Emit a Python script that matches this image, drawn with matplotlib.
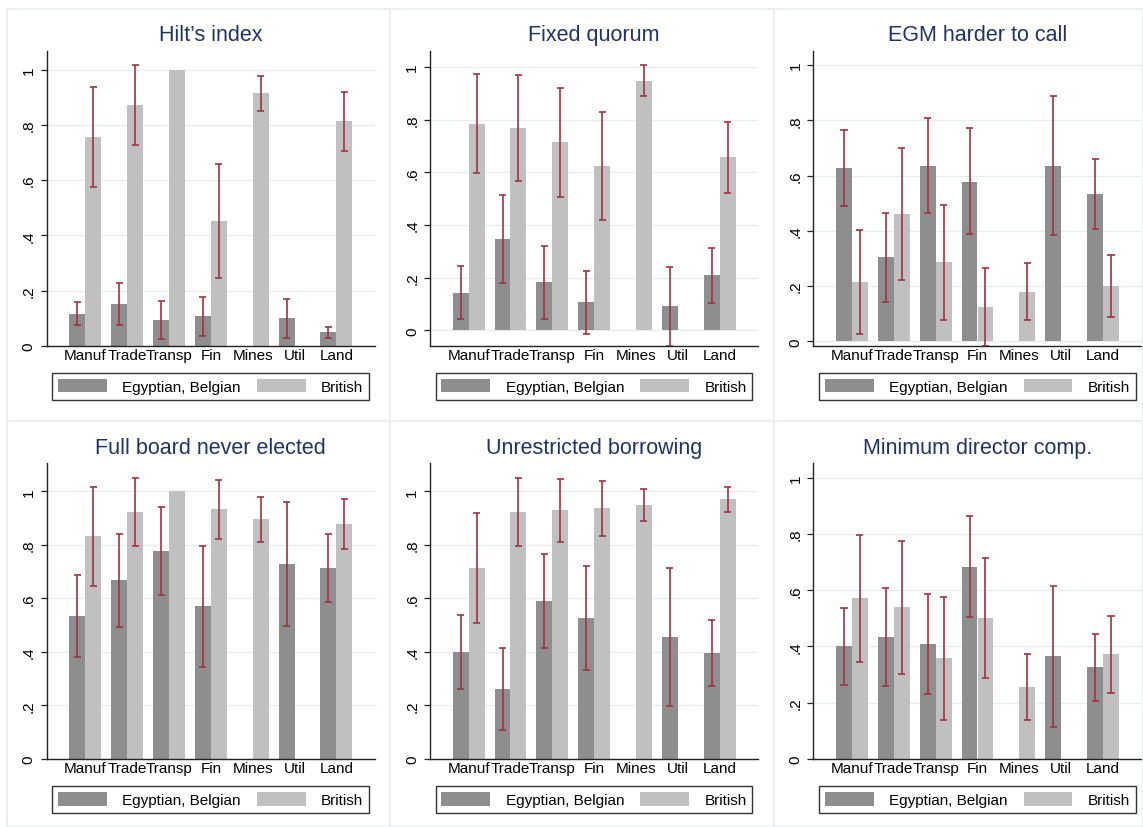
import numpy as np
import matplotlib
matplotlib.use("Agg")
import matplotlib.pyplot as plt
from matplotlib.patches import Patch, Rectangle

plt.rcParams['font.family'] = ['Liberation Sans', 'DejaVu Sans']

nan = np.nan
sectors = ["Manuf", "Trade", "Transp", "Fin", "Mines", "Util", "Land"]
ytick_vals = [0, 0.2, 0.4, 0.6, 0.8, 1]
ytick_labels = ["0", ".2", ".4", ".6", ".8", "1"]

# Hilt's index
hilt_eb = [0.115, 0.151, 0.093, 0.107, nan, 0.100, 0.050]
hilt_eb_lo = [0.075, 0.075, 0.024, 0.036, nan, 0.027, 0.029]
hilt_eb_hi = [0.157, 0.228, 0.163, 0.178, nan, 0.171, 0.068]
hilt_br = [0.757, 0.872, 1.000, 0.452, 0.914, nan, 0.813]
hilt_br_lo = [0.576, 0.727, nan, 0.246, 0.851, nan, 0.705]
hilt_br_hi = [0.936, 1.017, nan, 0.659, 0.977, nan, 0.919]

# Fixed quorum
quorum_eb = [0.143, 0.348, 0.184, 0.108, nan, 0.092, 0.210]
quorum_eb_lo = [0.044, 0.180, 0.043, -0.013, nan, -0.058, 0.106]
quorum_eb_hi = [0.243, 0.514, 0.320, 0.224, nan, 0.242, 0.314]
quorum_br = [0.785, 0.768, 0.715, 0.624, 0.948, nan, 0.658]
quorum_br_lo = [0.597, 0.567, 0.506, 0.419, 0.889, nan, 0.523]
quorum_br_hi = [0.972, 0.968, 0.920, 0.830, 1.006, nan, 0.791]

# EGM harder to call
egm_eb = [0.627, 0.305, 0.636, 0.578, nan, 0.636, 0.534]
egm_eb_lo = [0.491, 0.142, 0.463, 0.387, nan, 0.385, 0.408]
egm_eb_hi = [0.765, 0.466, 0.809, 0.771, nan, 0.888, 0.661]
egm_br = [0.215, 0.461, 0.286, 0.124, 0.179, nan, 0.200]
egm_br_lo = [0.027, 0.223, 0.078, -0.016, 0.076, nan, 0.087]
egm_br_hi = [0.403, 0.698, 0.492, 0.267, 0.282, nan, 0.312]

# Full board never elected
board_eb = [0.534, 0.668, 0.777, 0.570, nan, 0.728, 0.713]
board_eb_lo = [0.380, 0.491, 0.611, 0.344, nan, 0.495, 0.586]
board_eb_hi = [0.687, 0.840, 0.943, 0.797, nan, 0.959, 0.842]
board_br = [0.833, 0.923, 1.000, 0.934, 0.897, nan, 0.878]
board_br_lo = [0.647, 0.796, nan, 0.823, 0.810, nan, 0.783]
board_br_hi = [1.017, 1.050, nan, 1.042, 0.978, nan, 0.973]

# Unrestricted borrowing
borrow_eb = [0.399, 0.261, 0.590, 0.526, nan, 0.455, 0.395]
borrow_eb_lo = [0.261, 0.106, 0.413, 0.333, nan, 0.196, 0.272]
borrow_eb_hi = [0.539, 0.414, 0.767, 0.721, nan, 0.713, 0.519]
borrow_br = [0.713, 0.923, 0.930, 0.938, 0.949, nan, 0.971]
borrow_br_lo = [0.507, 0.796, 0.810, 0.834, 0.889, nan, 0.924]
borrow_br_hi = [0.920, 1.050, 1.046, 1.040, 1.007, nan, 1.017]

# Minimum director comp.
comp_eb = [0.401, 0.435, 0.407, 0.684, nan, 0.366, 0.327]
comp_eb_lo = [0.261, 0.260, 0.232, 0.504, nan, 0.113, 0.205]
comp_eb_hi = [0.538, 0.608, 0.587, 0.865, nan, 0.615, 0.444]
comp_br = [0.572, 0.540, 0.359, 0.501, 0.255, nan, 0.373]
comp_br_lo = [0.345, 0.300, 0.138, 0.287, 0.139, nan, 0.234]
comp_br_hi = [0.798, 0.776, 0.576, 0.713, 0.373, nan, 0.507]

titles = ["Hilt\u2019s index", "Fixed quorum", "EGM harder to call",
          "Full board never elected", "Unrestricted borrowing", "Minimum director comp."]
ylims = [(0, 1.069), (-0.058, 1.062), (-0.016, 1.052),
         (0, 1.105), (0, 1.105), (0, 1.052)]

panels = [
    (hilt_eb, hilt_eb_lo, hilt_eb_hi, hilt_br, hilt_br_lo, hilt_br_hi),
    (quorum_eb, quorum_eb_lo, quorum_eb_hi, quorum_br, quorum_br_lo, quorum_br_hi),
    (egm_eb, egm_eb_lo, egm_eb_hi, egm_br, egm_br_lo, egm_br_hi),
    (board_eb, board_eb_lo, board_eb_hi, board_br, board_br_lo, board_br_hi),
    (borrow_eb, borrow_eb_lo, borrow_eb_hi, borrow_br, borrow_br_lo, borrow_br_hi),
    (comp_eb, comp_eb_lo, comp_eb_hi, comp_br, comp_br_lo, comp_br_hi),
]

dark = "#8e8e8e"
light = "#c0c0c0"
ci_col = "#9e3441"
title_col = "#1f3366"
grid_col = "#e6eef0"

W, H = 1143, 828
fig = plt.figure(figsize=(W / 100, H / 100), dpi=100)
fig.patch.set_facecolor("white")

# faint outer borders of each sub-graph (pixels)
col_edges = [(7, 390), (390, 774), (774, 1143)]
row_edges = [(10, 422), (422, 828)]
for (r0, r1) in row_edges:
    for (c0, c1) in col_edges:
        fig.patches.append(Rectangle((c0 / W, 1 - r1 / H), (c1 - c0) / W, (r1 - r0) / H,
                                     transform=fig.transFigure, fill=False,
                                     edgecolor="#e8eef1", linewidth=1.5, zorder=0))

ax_left = [46.7, 430, 813.3]
ax_right = [375, 758.3, 1141.7]
ax_top = [51.7, 464.3]
ax_bot = [346.7, 759.7]

x = np.arange(len(sectors))
bw = 0.38

for i, (eb, eb_lo, eb_hi, br, br_lo, br_hi) in enumerate(panels):
    r, c = divmod(i, 3)
    l, rt = ax_left[c], ax_right[c]
    t, b = ax_top[r], ax_bot[r]
    ax = fig.add_axes([l / W, 1 - b / H, (rt - l) / W, (b - t) / H])

    eb = np.array(eb); br = np.array(br)
    ax.bar(x - bw / 2, eb, bw, color=dark, zorder=2)
    ax.bar(x + bw / 2, br, bw, color=light, zorder=2)
    cap = 0.085
    for xs, lo, hi in [(x - bw / 2, eb_lo, eb_hi), (x + bw / 2, br_lo, br_hi)]:
        ax.vlines(xs, lo, hi, color=ci_col, lw=1.2, zorder=3)
        ax.hlines(lo, xs - cap, xs + cap, color=ci_col, lw=1.2, zorder=3)
        ax.hlines(hi, xs - cap, xs + cap, color=ci_col, lw=1.2, zorder=3)

    ax.set_xlim(-0.924, 6.924)
    ax.set_ylim(*ylims[i])
    ax.set_yticks(ytick_vals)
    ax.set_yticklabels(ytick_labels, rotation=90, va="center", fontsize=11)
    ax.set_xticks(x)
    ax.set_xticklabels(sectors, fontsize=11)
    ax.tick_params(axis="x", length=0, pad=2)
    ax.tick_params(axis="y", length=4.3, width=0.9, pad=3.5, color="#222222")
    ax.grid(axis="y", color=grid_col, lw=1.0, zorder=0)
    ax.set_axisbelow(True)
    for s in ["top", "right"]:
        ax.spines[s].set_visible(False)
    for s in ["left", "bottom"]:
        ax.spines[s].set_color("#222222")
        ax.spines[s].set_linewidth(1.0)
    ax.set_title(titles[i], fontsize=15.5, color=title_col, pad=7.5)

    handles = [Patch(facecolor=dark, edgecolor="none", label="Egyptian, Belgian"),
               Patch(facecolor=light, edgecolor="none", label="British")]
    leg = ax.legend(handles=handles, ncol=2, mode="expand", loc="upper left",
                    bbox_to_anchor=(0.017, -0.1875, 0.965, 0.095), fontsize=11,
                    handlelength=3.2, handleheight=1.0, handletextpad=1.0,
                    borderpad=0.38, borderaxespad=0, fancybox=False, framealpha=1)
    leg.get_frame().set_edgecolor("#333333")
    leg.get_frame().set_linewidth(1.0)

fig.savefig("out.png", dpi=100)
